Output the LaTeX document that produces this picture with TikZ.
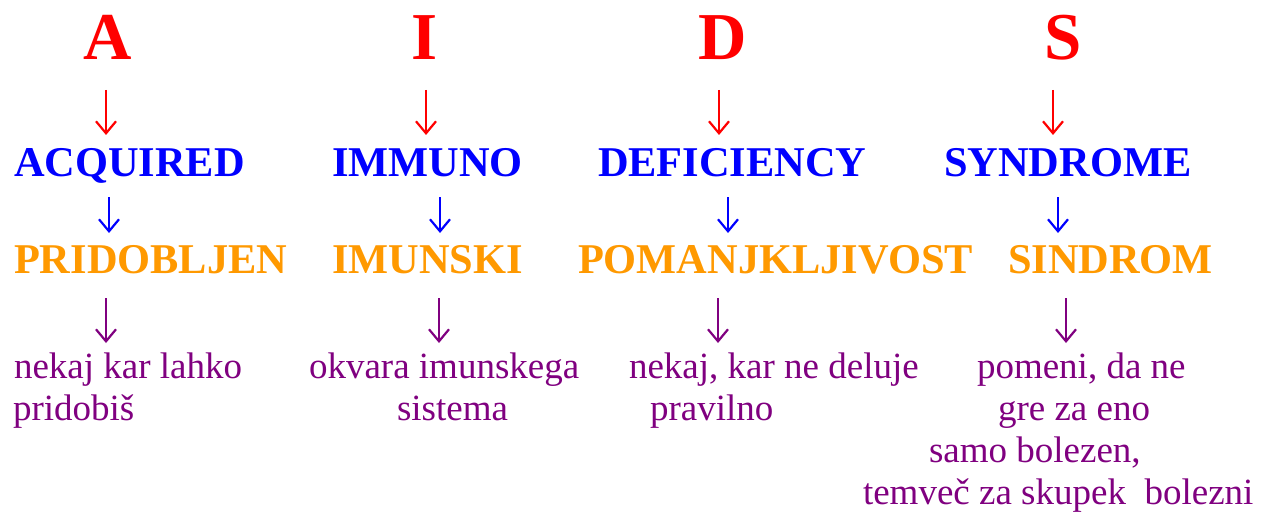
\documentclass[tikz,border=0pt]{standalone}
\usepackage{fontspec}
\setmainfont{Liberation Serif}
\usetikzlibrary{arrows.meta,calc}
\definecolor{tred}{HTML}{FF0000}
\definecolor{tblue}{HTML}{0000FF}
\definecolor{torange}{HTML}{FF9900}
\definecolor{tpurple}{HTML}{800080}
\begin{document}
\begin{tikzpicture}[x=1pt,y=-1pt,
  every node/.style={inner sep=0pt,outer sep=0pt,anchor=base west},
  letter/.style={text=tred,font=\fontsize{67}{67}\selectfont\bfseries},
  eng/.style={text=tblue,font=\fontsize{42.4}{42.4}\selectfont\bfseries},
  slo/.style={text=torange,font=\fontsize{42.4}{42.4}\selectfont\bfseries},
  expl/.style={text=tpurple,font=\fontsize{37}{37}\selectfont},
  arr/.style={line width=2.2pt,-{Straight Barb[length=12pt,width=20pt,line width=2.2pt]}},
  rarr/.style={arr,draw=tred},
  barr/.style={arr,draw=tblue},
  parr/.style={arr,draw=tpurple}]
\path[use as bounding box,fill=white] (0,0) rectangle (1269,516);

% letters
\node[letter] (A) at (83,59.5) {A};
\node[letter] (I) at (411,59.5) {I};
\node[letter] (D) at (698,59.5) {D};
\node[letter] (S) at (1044,59.5) {S};

% English words
\node[eng] (acq) at (14,176) {ACQUIRED};
\node[eng] (imm) at (332,176) {IMMUNO};
\node[eng] (def) at (598,176) {DEFICIENCY};
\node[eng] (syn) at (944,176) {SYNDROME};

% Slovene words
\node[slo] (pri) at (14,273) {PRIDOBLJEN};
\node[slo] (imu) at (332,273) {IMUNSKI};
\node[slo] (pom) at (578,273) {POMANJKLJIVOST};
\node[slo] (sin) at (1008,273) {SINDROM};

% explanations
\node[expl] (e1a) at (14,378) {nekaj kar lahko};
\node[expl] (e1b) at (13,420) {pridobiš};
\node[expl] (e2a) at (309,378) {okvara imunskega};
\node[expl] (e2b) at (397,420) {sistema};
\node[expl] (e3a) at (629,378) {nekaj, kar ne deluje};
\node[expl] (e3b) at (650,420) {pravilno};
\node[expl] (e4a) at (977,378) {pomeni, da ne};
\node[expl] (e4b) at (998,420) {gre za eno};
\node[expl] (e4c) at (929,462) {samo bolezen,};
\node[expl] (e4d) at (863,504) {temveč za skupek\ \ bolezni};

% red arrows
\draw[rarr] ($(A.base west)+(23,30.5)$) -- ($(A.base west |- acq.base west)+(23,-41)$);
\draw[rarr] ($(I.base west)+(15,30.5)$) -- ($(I.base west |- imm.base west)+(15,-41)$);
\draw[rarr] ($(D.base west)+(21,30.5)$) -- ($(D.base west |- def.base west)+(21,-41)$);
\draw[rarr] ($(S.base west)+(9,30.5)$) -- ($(S.base west |- syn.base west)+(9,-41)$);

% blue arrows
\draw[barr] ($(acq.base west)+(95,21)$) -- ($(acq.base west |- pri.base west)+(95,-40)$);
\draw[barr] ($(imm.base west)+(108,21)$) -- ($(imm.base west |- imu.base west)+(108,-40)$);
\draw[barr] ($(def.base west)+(130,21)$) -- ($(def.base west |- pom.base west)+(130,-40)$);
\draw[barr] ($(syn.base west)+(114,21)$) -- ($(syn.base west |- sin.base west)+(114,-40)$);

% purple arrows
\draw[parr] ($(pri.base west)+(92,25)$) -- ($(pri.base west |- e1a.base west)+(92,-35)$);
\draw[parr] ($(imu.base west)+(107,25)$) -- ($(imu.base west |- e2a.base west)+(107,-35)$);
\draw[parr] ($(pom.base west)+(140,25)$) -- ($(pom.base west |- e3a.base west)+(140,-35)$);
\draw[parr] ($(sin.base west)+(58,25)$) -- ($(sin.base west |- e4a.base west)+(58,-35)$);
\end{tikzpicture}
\end{document}
